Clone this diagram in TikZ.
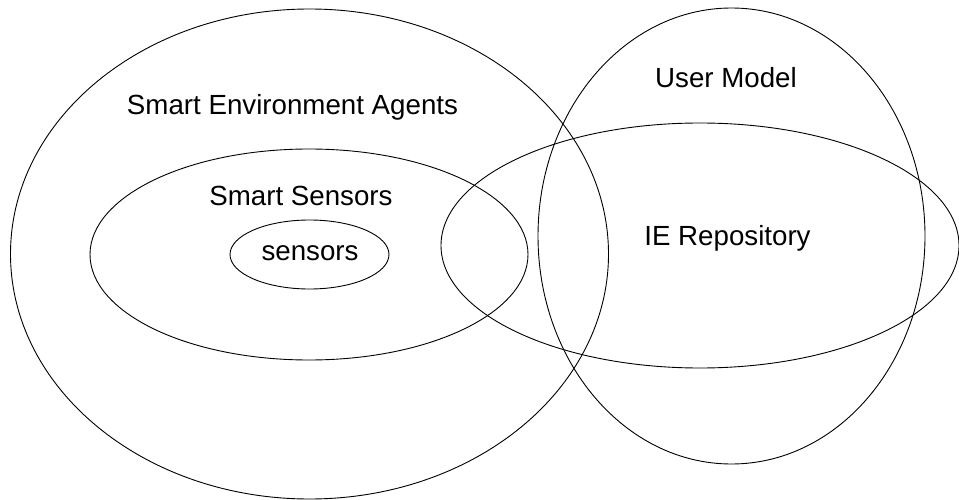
\documentclass[tikz,border=0pt]{standalone}
\usepackage{fontspec}
\setmainfont{Liberation Sans}
\usetikzlibrary{shapes.geometric}
\begin{document}
\begin{tikzpicture}[x=1pt,y=-1pt,
  set/.style={draw=black, line width=0.9pt, ellipse, inner sep=0pt},
  setlabel/.style={anchor=base, inner sep=0pt, font=\fontsize{27.7}{33}\selectfont}]
\useasboundingbox (0,0) rectangle (959,500);
% nested sets on the left
\node[set, minimum width=598pt, minimum height=490pt] (agents) at (309.5,254) {};
\node[set, minimum width=438pt, minimum height=211pt] (smart) at (309,254.5) {};
\node[set, minimum width=159pt, minimum height=69pt] (sens) at (309.5,254.5) {};
% overlapping sets on the right
\node[set, minimum width=387pt, minimum height=456pt] (user) at (731.5,236) {};
\node[set, minimum width=518pt, minimum height=245pt] (repo) at (700,245.5) {};
% labels
\node[setlabel] (agentsl) at (292.5,115) {Smart Environment Agents};
\node[setlabel] (smartl) at (301,205) {Smart Sensors};
\node[setlabel] (sensl) at (310,260) {sensors};
\node[setlabel] (userl) at (726,88) {User Model};
\node[setlabel] (repol) at (727.5,245) {IE Repository};
\end{tikzpicture}
\end{document}
